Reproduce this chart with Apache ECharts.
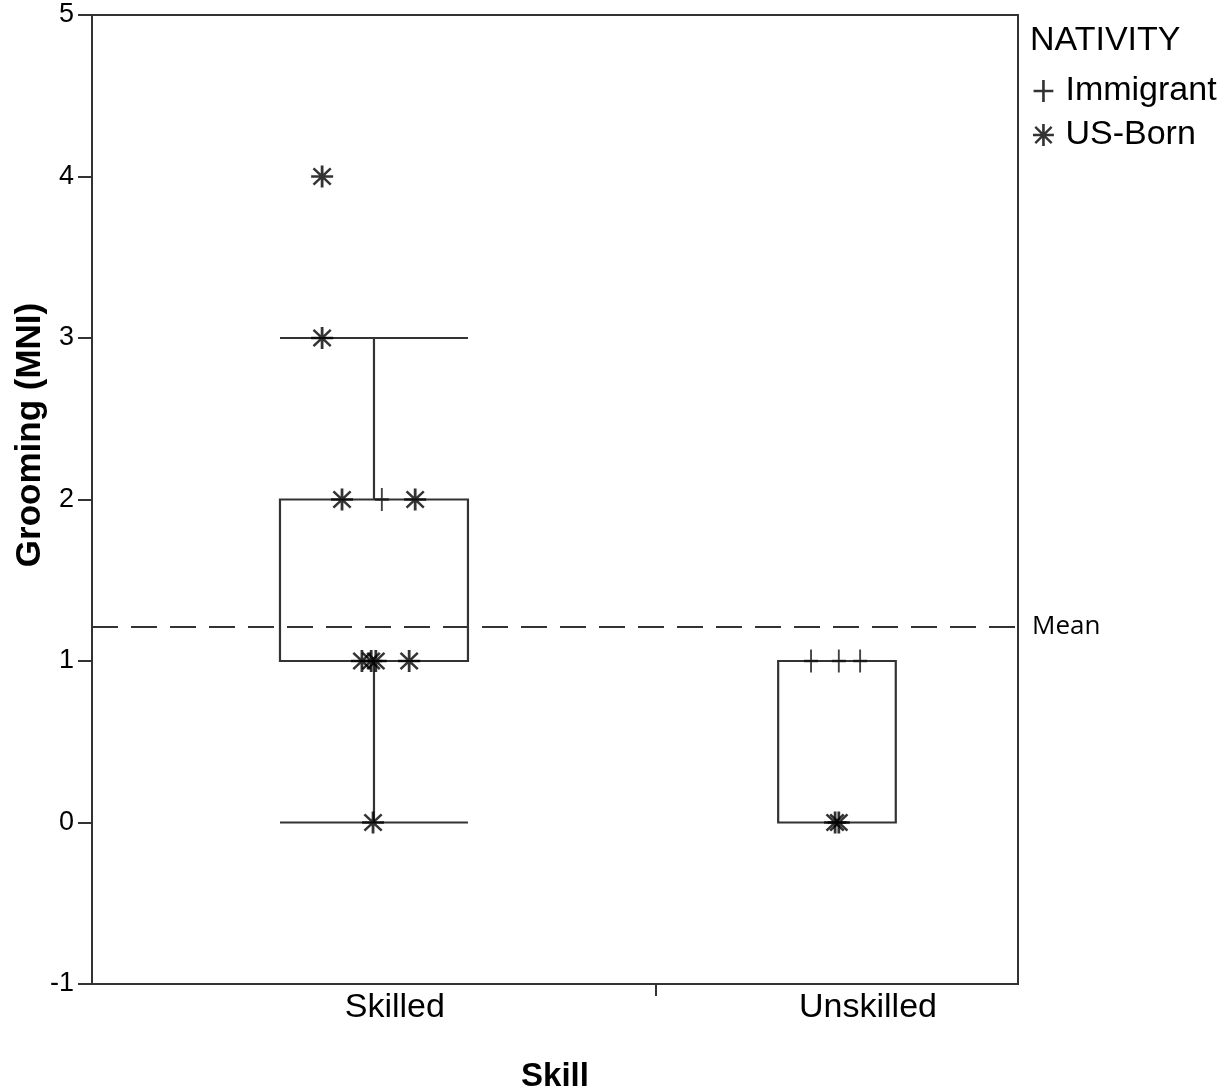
<!DOCTYPE html>
<html><head><meta charset="utf-8">
<script src="https://cdn.jsdelivr.net/npm/echarts@6/dist/echarts.min.js"></script>
<style>html,body{margin:0;padding:0;background:#fff}#c{width:1231px;height:1089px}</style>
</head><body><div id="c"></div>
<script>
// ---- data ----
const categories = ['Skilled', 'Unskilled'];
// box summary per category: [min, q1, q3, max]
const boxStats = [[0, 1, 2, 3], [0, 0, 1, 1]];
// points: [category index, jitter offset, value]
const immigrantPoints = [[0, 0.017, 2], [1, -0.056, 1], [1, 0.004, 1], [1, 0.050, 1]];
const usBornPoints = [
  [0, -0.112, 4], [0, -0.112, 3], [0, -0.069, 2], [0, 0.089, 2],
  [0, -0.026, 1], [0, -0.006, 1], [0, 0.004, 1], [0, 0.076, 1],
  [0, -0.002, 0], [1, -0.004, 0], [1, 0.004, 0]
];
const meanValue = 1.21;
const yTicks = [-1, 0, 1, 2, 3, 4, 5];

// ---- chart ----
const X_MIN = -0.609, X_MAX = 1.391;
const halfWidths = [0.203, 0.127];
const labelPos = [0.045, 1.067];
const STAR = 'path://M8.8 0H11.2V20H8.8Z M0.5 8.9H19.5V11.1H0.5Z M1.8 3.3L3.3 1.8L18.2 16.7L16.7 18.2Z M16.7 1.8L18.2 3.3L3.3 18.2L1.8 16.7Z';
const PLUS = 'path://M8.8 0H11.2V20H8.8Z M1 8.9H19V11.1H1Z';
const FONT = 'Liberation Sans, Arial';

const chart = echarts.init(document.getElementById('c'));
const boxData = boxStats.map((s, i) => [i].concat(s));
chart.setOption({
  animation: false,
  backgroundColor: '#fff',
  grid: { left: 92, right: 213, top: 15, bottom: 105, show: true, borderColor: '#333', borderWidth: 2, containLabel: false, outerBoundsMode: 'none' },
  xAxis: {
    type: 'value', min: X_MIN, max: X_MAX,
    splitLine: { show: false },
    axisLine: { onZero: false, lineStyle: { color: '#333', width: 2 } },
    axisTick: { show: true, length: 12, customValues: [0.609], lineStyle: { color: '#333', width: 2 } },
    axisLabel: {
      customValues: labelPos, margin: 7,
      formatter: v => { const i = labelPos.findIndex(p => Math.abs(p - v) < 1e-6); return i >= 0 ? categories[i] : ''; },
      color: '#000', fontSize: 34, fontFamily: FONT
    },
    name: 'Skill', nameLocation: 'middle', nameGap: 76,
    nameTextStyle: { fontSize: 33, fontWeight: 'bold', color: '#000', fontFamily: FONT }
  },
  yAxis: {
    type: 'value', min: -1, max: 5, interval: 1,
    splitLine: { show: false },
    axisLine: { show: true, onZero: false, lineStyle: { color: '#333', width: 2 } },
    axisTick: { show: true, length: 14, lineStyle: { color: '#333', width: 2 } },
    axisLabel: { color: '#000', fontSize: 27, margin: 18, fontFamily: FONT }
  },
  legend: {
    orient: 'vertical', left: 1028, top: 69, itemGap: 10,
    itemWidth: 22, itemHeight: 22,
    data: [{ name: 'Immigrant', icon: PLUS }, { name: 'US-Born', icon: STAR }],
    itemStyle: { color: '#000' },
    textStyle: { fontSize: 34, color: '#000', fontFamily: FONT, padding: [0, 0, 0, 6] }
  },
  graphic: [
    { type: 'text', left: 1030, top: 24, style: { text: 'NATIVITY', fontSize: 34, fill: '#000', fontFamily: FONT } },
    { type: 'text', x: 30, y: 435, rotation: Math.PI / 2, style: { text: 'Grooming (MNI)', fontSize: 35, fontWeight: 'bold', fill: '#000', fontFamily: FONT, align: 'center', verticalAlign: 'middle' } }
  ],
  series: [
    {
      type: 'custom', name: 'box', data: boxData, silent: true, z: 2,
      renderItem: (params, api) => {
        const i = api.value(0);
        const hw = halfWidths[i];
        const mn = api.value(1), q1 = api.value(2), q3 = api.value(3), mx = api.value(4);
        const L = api.coord([i - hw, q1])[0], R = api.coord([i + hw, q1])[0], C = api.coord([i, q1])[0];
        const y = v => api.coord([i, v])[1];
        const st = { stroke: '#333', lineWidth: 2.2, fill: null };
        const ch = [{ type: 'rect', shape: { x: L, y: y(q3), width: R - L, height: y(q1) - y(q3) }, style: st }];
        if (mx > q3) {
          ch.push({ type: 'line', shape: { x1: C, y1: y(q3), x2: C, y2: y(mx) }, style: st });
          ch.push({ type: 'line', shape: { x1: L, y1: y(mx), x2: R, y2: y(mx) }, style: st });
        }
        if (mn < q1) {
          ch.push({ type: 'line', shape: { x1: C, y1: y(q1), x2: C, y2: y(mn) }, style: st });
          ch.push({ type: 'line', shape: { x1: L, y1: y(mn), x2: R, y2: y(mn) }, style: st });
        }
        return { type: 'group', children: ch };
      },
      markLine: {
        silent: true, symbol: 'none',
        lineStyle: { color: '#333', width: 2, type: [26, 13] },
        label: { show: true, position: 'end', distance: 14, formatter: 'Mean', color: '#000', fontSize: 26, fontFamily: 'Open Sans, Noto Sans' },
        data: [{ yAxis: meanValue }]
      }
    },
    {
      type: 'scatter', name: 'Immigrant', symbol: PLUS, symbolSize: [14, 23], z: 3,
      itemStyle: { color: '#111' },
      data: immigrantPoints.map(p => [p[0] + p[1], p[2]])
    },
    {
      type: 'scatter', name: 'US-Born', symbol: STAR, symbolSize: 22, z: 4,
      itemStyle: { color: '#000' },
      data: usBornPoints.map(p => [p[0] + p[1], p[2]])
    }
  ]
});
</script></body></html>
